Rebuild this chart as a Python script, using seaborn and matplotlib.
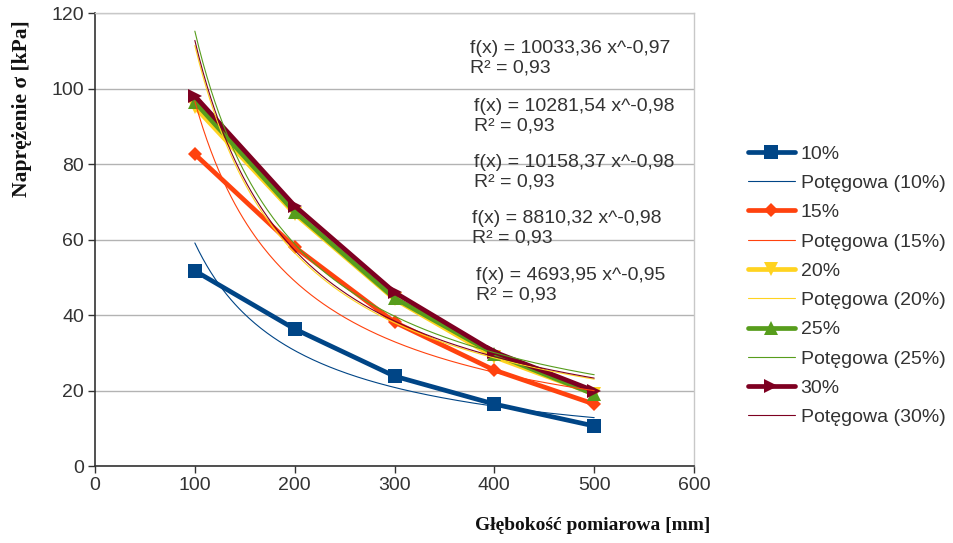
import numpy as np
import pandas as pd
import matplotlib
matplotlib.use("Agg")
import matplotlib.pyplot as plt
import seaborn as sns

# ---- data ----
depth = [100, 200, 300, 400, 500]
series_names = ["10%", "15%", "20%", "25%", "30%"]
s10 = [51.7, 36.3, 23.8, 16.4, 10.6]
s15 = [82.6, 58.0, 38.1, 25.4, 16.4]
s20 = [95.1, 66.8, 44.2, 28.9, 19.1]
s25 = [96.4, 67.3, 44.5, 29.7, 19.0]
s30 = [98.0, 68.9, 46.0, 30.2, 19.9]
values = [s10, s15, s20, s25, s30]

# power trendline coefficients as displayed: f(x) = a * x^b
trend_a = [4693.95, 8810.32, 10158.37, 10033.36, 10281.54]
trend_b = [-0.95, -0.98, -0.98, -0.97, -0.98]

# equation labels in displayed order (top to bottom)
eq_a = ["10033,36", "10281,54", "10158,37", "8810,32", "4693,95"]
eq_b = ["0,97", "0,98", "0,98", "0,98", "0,95"]
eq_r2 = ["0,93", "0,93", "0,93", "0,93", "0,93"]

x_ticks = [0, 100, 200, 300, 400, 500, 600]
y_ticks = [0, 20, 40, 60, 80, 100, 120]

# ---- style ----
colors = ["#004586", "#ff420e", "#ffd320", "#579d1c", "#7e0021"]
markers = ["s", "D", "v", "^", ">"]
msizes = [10, 7.5, 9.5, 9.5, 9.5]

sns.set_theme(style="white")
plt.rcParams["font.family"] = ["Liberation Sans", "DejaVu Sans"]

fig = plt.figure(figsize=(9.54, 5.43), dpi=100)
ax = fig.add_axes([0.0996, 0.1418, 0.6279, 0.8342])

for i, name in enumerate(series_names):
    df = pd.DataFrame({"x": depth, "y": values[i]})
    sns.lineplot(data=df, x="x", y="y", ax=ax, color=colors[i], lw=3.4,
                 marker=markers[i], markersize=msizes[i], markeredgewidth=0,
                 label=name, zorder=3 + i * 0.1)
    xs = np.linspace(depth[0], depth[-1], 200)
    tdf = pd.DataFrame({"x": xs, "y": trend_a[i] * xs ** trend_b[i]})
    sns.lineplot(data=tdf, x="x", y="y", ax=ax, color=colors[i], lw=0.8,
                 label=f"Potęgowa ({name})", zorder=4 + i * 0.1)

ax.set_xlim(0, 600)
ax.set_ylim(0, 120)
ax.set_xticks(x_ticks)
ax.set_yticks(y_ticks)
ax.yaxis.grid(True, color="#b3b3b3", lw=1)
ax.xaxis.grid(False)
for side in ["top", "right"]:
    ax.spines[side].set_color("#c8c8c8")
    ax.spines[side].set_linewidth(1)
for side in ["left", "bottom"]:
    ax.spines[side].set_color("#333333")
    ax.spines[side].set_linewidth(1.2)
ax.tick_params(axis="both", which="major", direction="out", length=5, width=1,
               color="#333333", labelsize=14, labelcolor="#333333", pad=3,
               left=True, bottom=True)

ax.set_xlabel("Głębokość pomiarowa [mm]", fontsize=14, fontweight="bold",
              family="Liberation Serif", color="#111111")
ax.set_ylabel("Naprężenie σ [kPa]", fontsize=15.5, fontweight="bold",
              family="Liberation Serif", color="#111111")
ax.xaxis.set_label_coords(0.83, -0.113)
ax.yaxis.set_label_coords(-0.106, 0.788)

eq_x = [375.6, 379.6, 379.6, 377.6, 381.6]
eq_y = [108.1, 92.7, 77.9, 63.0, 47.9]
for i in range(len(eq_a)):
    ax.text(eq_x[i], eq_y[i], f"f(x) = {eq_a[i]} x^-{eq_b[i]}\nR² = {eq_r2[i]}",
            fontsize=14, color="#333333", ha="left", va="center",
            linespacing=1.2, zorder=6)

ax.get_legend().remove()
h, l = ax.get_legend_handles_labels()
leg = fig.legend(h, l, loc="center left", bbox_to_anchor=(0.776, 0.474),
                 frameon=False, fontsize=14, handlelength=2.4,
                 handletextpad=0.3, labelspacing=0.6, borderaxespad=0)
for t in leg.get_texts():
    t.set_color("#333333")

fig.savefig("out.png", dpi=100)
